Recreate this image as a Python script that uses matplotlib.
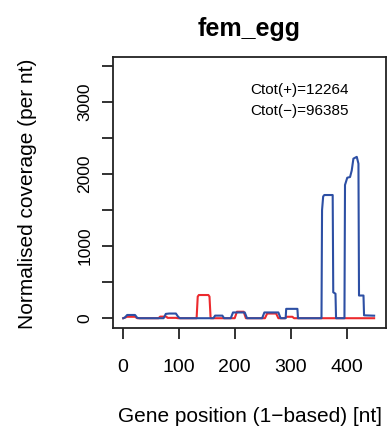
import matplotlib
matplotlib.use("Agg")
import matplotlib.pyplot as plt
from matplotlib.ticker import FixedLocator, FuncFormatter

plt.rcParams['font.family'] = ['Liberation Sans', 'DejaVu Sans']

# coverage profile of the minus strand (blue)
minus_pos = [1, 4, 8, 22, 26, 30, 73, 77, 83, 95, 99, 102, 162, 165, 178, 181,
             193, 197, 218, 222, 249, 253, 278, 282, 291, 292, 312, 313,
             355, 356, 358, 360, 375, 376, 380, 381, 396, 397, 401, 406, 409,
             412, 418, 421, 422, 430, 431, 449]
minus_cov = [0, 10, 45, 45, 5, 0, 0, 60, 65, 65, 20, 0, 0, 36, 36, 0,
             0, 80, 80, 0, 0, 80, 80, 0, 0, 130, 130, 0,
             0, 1500, 1690, 1710, 1710, 360, 340, 0, 0, 1850, 1950, 1960, 2050,
             2215, 2240, 2145, 315, 315, 40, 35]

# coverage profile of the plus strand (red)
plus_pos = [1, 8, 22, 26, 64, 67, 78, 80, 95, 99, 132, 134, 136, 153, 155, 157,
            200, 204, 216, 220, 254, 258, 274, 278, 290, 293, 303, 306, 449]
plus_cov = [0, 20, 20, 0, 0, 22, 22, 5, 5, 0, 0, 300, 322, 322, 300, 0,
            0, 90, 90, 0, 0, 65, 65, 0, 0, 20, 20, 0, 0]

ctot_plus = 12264
ctot_minus = 96385
title = "fem_egg"

W, H = 391, 434
fig = plt.figure(figsize=(W / 100, H / 100), dpi=100)
ax = fig.add_axes([113 / W, 1 - 328.3 / H, (386 - 113) / W, (328.3 - 56.7) / H])

ax.plot(plus_pos, plus_cov, color='#EC2A2E', lw=1.5, solid_joinstyle='round')
ax.plot(minus_pos, minus_cov, color='#2D4FA4', lw=1.5, solid_joinstyle='round')

ax.set_xlim(-17.3, 470.2)
ax.set_ylim(-140, 3630)

ax.xaxis.set_major_locator(FixedLocator([0, 100, 200, 300, 400]))
ax.yaxis.set_major_locator(FixedLocator(range(0, 3501, 500)))
ax.yaxis.set_major_formatter(FuncFormatter(lambda v, p: f"{int(v)}" if v % 1000 == 0 else ""))

for s in ax.spines.values():
    s.set_linewidth(1.3)
    s.set_color('#222222')
ax.tick_params(axis='both', direction='out', length=8, width=1.3, color='#222222')
ax.tick_params(axis='x', labelsize=14, pad=14)
ax.tick_params(axis='y', labelsize=12.5, pad=7)
for lab in ax.get_yticklabels():
    lab.set_rotation(90)
    lab.set_va('center')

ax.text(227, 3165, f"Ctot(+)={ctot_plus}", fontsize=11, va='center', ha='left')
ax.text(227, 2880, f"Ctot(\u2212)={ctot_minus}", fontsize=11, va='center', ha='left')

fig.text(249.5 / W, 1 - 36 / H, title, fontsize=18, fontweight='bold',
         ha='center', va='baseline')
fig.text(249.5 / W, 1 - 422 / H, "Gene position (1\u2212based) [nt]", fontsize=15,
         ha='center', va='baseline')
fig.text(28 / W, 1 - 194 / H, "Normalised coverage (per nt)", fontsize=15,
         rotation=90, ha='center', va='center')

fig.savefig("out.png", dpi=100)
